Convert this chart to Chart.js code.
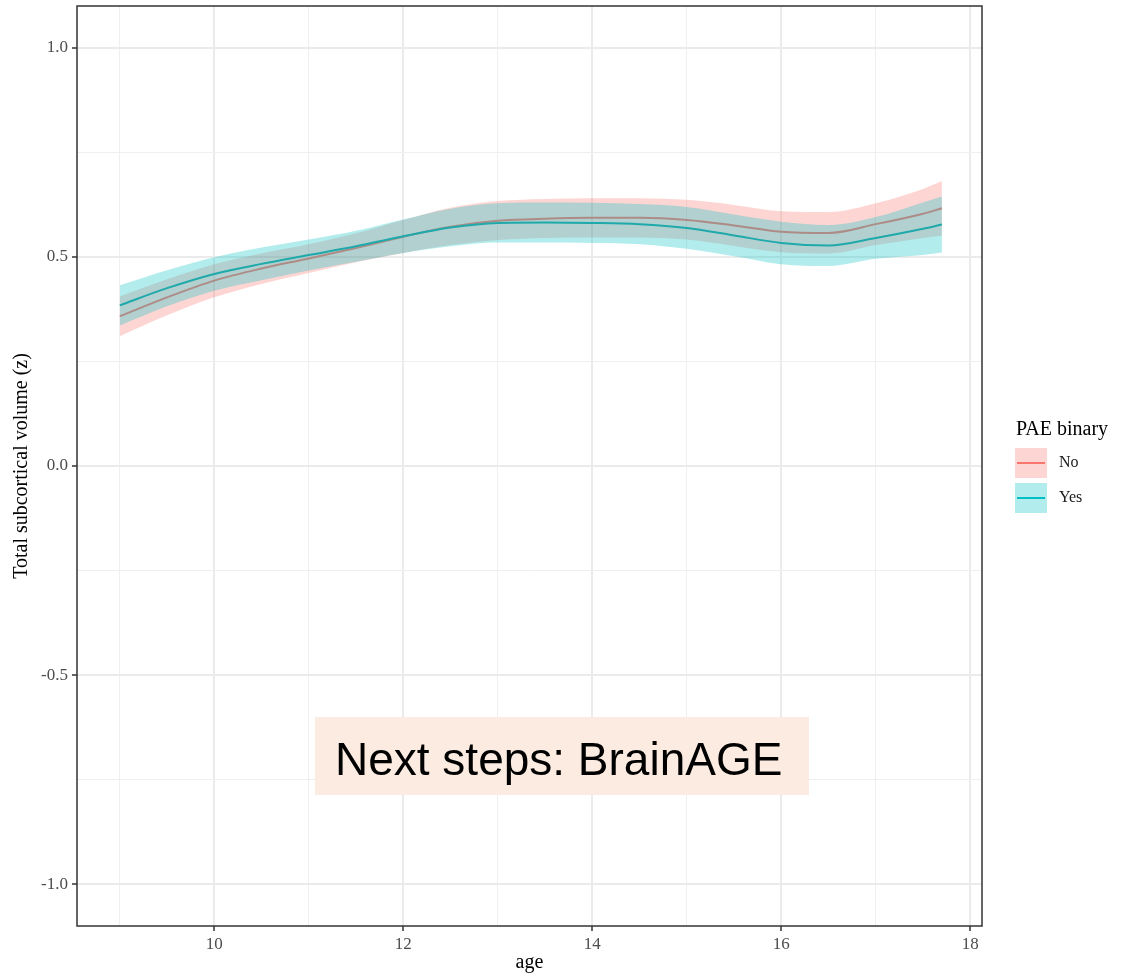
<!DOCTYPE html>
<html>
<head>
<meta charset="utf-8">
<script src="https://cdn.jsdelivr.net/npm/chart.js@4.4.1/dist/chart.umd.min.js"></script>
<style>
  html, body { margin: 0; padding: 0; background: #ffffff; }
  #wrap { width: 1130px; height: 978px; position: relative; }
</style>
</head>
<body>
<div id="wrap"><canvas id="c"></canvas></div>
<script>
// Smoothed fits of total subcortical volume (z) by age, with confidence ribbons
const ages     = [9.0, 9.5, 10.0, 10.5, 11.0, 11.5, 12.0, 12.5, 13.0, 13.5, 14.0, 14.5, 15.0, 15.5, 16.0, 16.5, 17.0, 17.5, 17.7];

const noMean   = [0.358, 0.403, 0.443, 0.472, 0.496, 0.521, 0.548, 0.572, 0.586, 0.591, 0.593, 0.593, 0.588, 0.575, 0.560, 0.557, 0.578, 0.603, 0.616];
const noUpper  = [0.405, 0.446, 0.482, 0.508, 0.530, 0.556, 0.588, 0.617, 0.633, 0.638, 0.640, 0.640, 0.636, 0.624, 0.609, 0.607, 0.628, 0.662, 0.681];
const noLower  = [0.310, 0.360, 0.403, 0.435, 0.461, 0.487, 0.509, 0.528, 0.540, 0.545, 0.546, 0.546, 0.541, 0.526, 0.511, 0.508, 0.528, 0.545, 0.551];

const yesMean  = [0.384, 0.425, 0.459, 0.483, 0.504, 0.525, 0.549, 0.570, 0.581, 0.582, 0.581, 0.578, 0.569, 0.551, 0.533, 0.527, 0.545, 0.567, 0.577];
const yesUpper = [0.432, 0.468, 0.499, 0.522, 0.541, 0.562, 0.589, 0.615, 0.628, 0.630, 0.629, 0.626, 0.619, 0.601, 0.584, 0.576, 0.595, 0.630, 0.644];
const yesLower = [0.336, 0.382, 0.419, 0.444, 0.467, 0.488, 0.509, 0.525, 0.534, 0.534, 0.533, 0.530, 0.519, 0.501, 0.482, 0.478, 0.495, 0.504, 0.510];

// Axis breaks
const xMajor = [10, 12, 14, 16, 18];
const xMajorLabels = ['10', '12', '14', '16', '18'];
const xMinor = [9, 11, 13, 15, 17];
const yMajor = [-1.0, -0.5, 0.0, 0.5, 1.0];
const yMajorLabels = ['-1.0', '-0.5', '0.0', '0.5', '1.0'];
const yMinor = [-0.75, -0.25, 0.25, 0.75];

const groupNames = ['No', 'Yes'];
const RED = '#F8766D', TEAL = '#00BFC4';
const RED_FILL = 'rgba(248,118,109,0.30)', TEAL_FILL = 'rgba(0,191,196,0.30)';

const pts = ys => ages.map((a, i) => ({ x: a, y: ys[i] }));
const near = (a, b) => Math.abs(a - b) < 1e-6;
const isMajorX = v => xMajor.some(m => near(m, v));
const isMajorY = v => yMajor.some(m => near(m, v));

function gridFor(isMajor) {
  return {
    color: c => (c.tick && isMajor(c.tick.value)) ? '#EBEBEB' : '#EFEFEF',
    lineWidth: c => (c.tick && isMajor(c.tick.value)) ? 2 : 1,
    tickColor: c => (c.tick && isMajor(c.tick.value)) ? '#333333' : 'rgba(0,0,0,0)',
    tickLength: 5,
    tickWidth: 1.5,
    drawTicks: true
  };
}

// Panel border, legend and the note box
const decorations = {
  id: 'decorations',
  afterDatasetsDraw(chart) {
    const { ctx, chartArea: a } = chart;
    ctx.save();
    ctx.strokeStyle = '#333333';
    ctx.lineWidth = 1.5;
    ctx.strokeRect(a.left, a.top, a.right - a.left, a.bottom - a.top);
    ctx.restore();
  },
  afterDraw(chart) {
    const ctx = chart.ctx;
    ctx.save();
    // legend
    ctx.fillStyle = '#000000';
    ctx.font = '20px "Liberation Serif"';
    ctx.textAlign = 'left';
    ctx.textBaseline = 'alphabetic';
    ctx.fillText('PAE binary', 1016, 435);
    const keys = [
      { name: groupNames[0], fill: RED_FILL, line: RED, y: 448 },
      { name: groupNames[1], fill: TEAL_FILL, line: TEAL, y: 483 }
    ];
    keys.forEach(k => {
      ctx.fillStyle = k.fill;
      ctx.fillRect(1015, k.y, 32, 30);
      ctx.strokeStyle = k.line;
      ctx.lineWidth = 2;
      ctx.beginPath();
      ctx.moveTo(1017, k.y + 15);
      ctx.lineTo(1045, k.y + 15);
      ctx.stroke();
      ctx.fillStyle = '#1a1a1a';
      ctx.font = '16px "Liberation Serif"';
      ctx.textBaseline = 'middle';
      ctx.fillText(k.name, 1059, k.y + 15);
    });
    // note box
    ctx.fillStyle = '#FBEBE1';
    ctx.fillRect(315, 717, 494, 78);
    ctx.fillStyle = '#000000';
    ctx.font = '46px "Liberation Sans"';
    ctx.textBaseline = 'alphabetic';
    ctx.fillText('Next steps: BrainAGE', 335, 775);
    ctx.restore();
  }
};

const common = { pointRadius: 0, pointHoverRadius: 0, cubicInterpolationMode: 'monotone' };

new Chart(document.getElementById('c'), {
  type: 'line',
  data: {
    datasets: [
      Object.assign({ label: 'Yes', data: pts(yesMean), borderColor: '#1FA9AB', borderWidth: 2, fill: false }, common),
      Object.assign({ label: 'Yes upper', data: pts(yesUpper), borderWidth: 0, borderColor: 'rgba(0,0,0,0)', backgroundColor: TEAL_FILL, fill: '+1' }, common),
      Object.assign({ label: 'Yes lower', data: pts(yesLower), borderWidth: 0, borderColor: 'rgba(0,0,0,0)', fill: false }, common),
      Object.assign({ label: 'No', data: pts(noMean), borderColor: RED, borderWidth: 2, fill: false }, common),
      Object.assign({ label: 'No upper', data: pts(noUpper), borderWidth: 0, borderColor: 'rgba(0,0,0,0)', backgroundColor: RED_FILL, fill: '+1' }, common),
      Object.assign({ label: 'No lower', data: pts(noLower), borderWidth: 0, borderColor: 'rgba(0,0,0,0)', fill: false }, common)
    ]
  },
  options: {
    responsive: true,
    maintainAspectRatio: false,
    animation: false,
    events: [],
    layout: { padding: { left: 0, top: 6, right: 148, bottom: 0 } },
    plugins: { legend: { display: false }, tooltip: { enabled: false } },
    scales: {
      x: {
        type: 'linear',
        min: 8.547,
        max: 18.124,
        border: { display: false },
        grid: gridFor(isMajorX),
        afterBuildTicks: s => { s.ticks = [...xMajor, ...xMinor].sort((a, b) => a - b).map(v => ({ value: v })); },
        afterFit: s => { s.height = 52; s.paddingLeft = 0; s.paddingRight = 0; },
        ticks: {
          autoSkip: false,
          maxRotation: 0,
          padding: 3,
          color: '#4D4D4D',
          font: { family: 'Liberation Serif', size: 17 },
          callback: v => { const i = xMajor.findIndex(m => near(m, v)); return i >= 0 ? xMajorLabels[i] : ''; }
        },
        title: {
          display: true,
          text: 'age',
          color: '#000000',
          font: { family: 'Liberation Serif', size: 20 },
          padding: { top: 0, bottom: 3 }
        }
      },
      y: {
        type: 'linear',
        min: -1.0993,
        max: 1.0993,
        border: { display: false },
        grid: gridFor(isMajorY),
        afterBuildTicks: s => { s.ticks = [...yMajor, ...yMinor].sort((a, b) => a - b).map(v => ({ value: v })); },
        afterFit: s => { s.width = 77; s.paddingTop = 0; s.paddingBottom = 0; },
        ticks: {
          autoSkip: false,
          padding: 4,
          color: '#4D4D4D',
          font: { family: 'Liberation Serif', size: 17 },
          callback: v => { const i = yMajor.findIndex(m => near(m, v)); return i >= 0 ? yMajorLabels[i] : ''; }
        },
        title: {
          display: true,
          text: 'Total subcortical volume (z)',
          color: '#000000',
          font: { family: 'Liberation Serif', size: 20 },
          padding: { top: 10, bottom: 0 }
        }
      }
    }
  },
  plugins: [decorations]
});
</script>
</body>
</html>
